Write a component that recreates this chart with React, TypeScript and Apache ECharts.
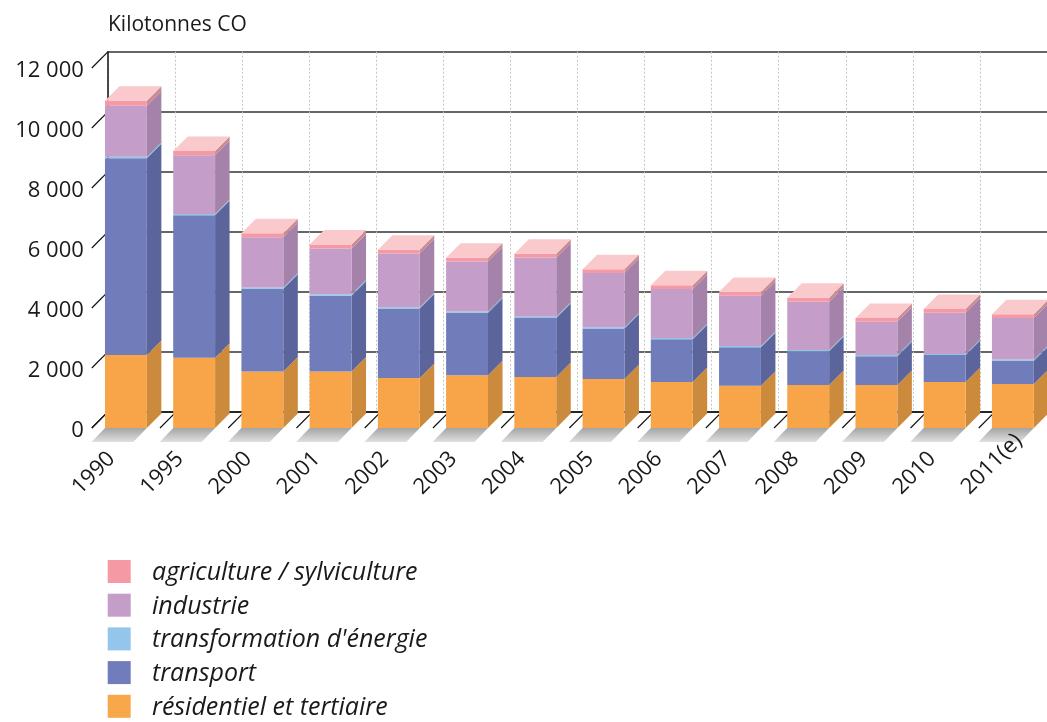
import { useEffect, useRef } from "react";
import * as echarts from "echarts";

// Emissions of carbon monoxide by sector (kilotonnes CO)
const years = ["1990", "1995", "2000", "2001", "2002", "2003", "2004", "2005", "2006", "2007", "2008", "2009", "2010", "2011(e)"];
const residentiel = [2430, 2340, 1880, 1880, 1670, 1760, 1700, 1630, 1530, 1410, 1430, 1430, 1530, 1470];
const transport = [6560, 4750, 2760, 2530, 2310, 2080, 1970, 1690, 1430, 1280, 1130, 960, 900, 770];
const energie = [50, 45, 45, 45, 45, 40, 40, 40, 40, 40, 40, 40, 40, 40];
const industrie = [1700, 1960, 1670, 1530, 1790, 1670, 1970, 1810, 1630, 1680, 1610, 1110, 1370, 1390];
const agriculture = [170, 135, 135, 130, 125, 125, 125, 125, 125, 125, 130, 125, 125, 125];
const yTicks = [0, 2000, 4000, 6000, 8000, 10000, 12000];
const unitLabel = "Kilotonnes CO";

// stacking order, bottom to top
const layers = [
  { name: "résidentiel et tertiaire", values: residentiel, front: "#f7a548", side: "#cc8a3c", legend: "#f8a74a" },
  { name: "transport", values: transport, front: "#717dbb", side: "#5b659c", legend: "#717cbd" },
  { name: "transformation d'énergie", values: energie, front: "#8ec6e9", side: "#7aabcb", legend: "#93c6ea" },
  { name: "industrie", values: industrie, front: "#c49ec8", side: "#a482a9", legend: "#c49ec8" },
  { name: "agriculture / sylviculture", values: agriculture, front: "#f59aa5", side: "#c98a93", legend: "#f59aa5" },
];
const TOP_FACE = "#f9c9cc";

const FONT = "'Open Sans', 'Noto Sans', sans-serif";
const TEXT = "#1a1a1a";
const PLOT = { left: 91.8, top: 68, width: 957.6, height: 360 };
const WALL = 16.3; // depth of the back wall behind the front plane
const BAR_DEPTH = 14.5;
const BAR_RATIO = 42 / 68.4;
const SHADOW = { dx: -13.5, dy: 14 };
const LABEL_ANCHOR = { dx: -52, dy: 61 }; // start of the slanted year labels, from the bar foot
const LEGEND = { left: 107.7, top: 560, box: 23, pitch: 33.7, textLeft: 152, textShift: -1.5, fontSize: 25 };

const fmt = (v: number) => String(v).replace(/\B(?=(\d{3})+(?!\d))/g, " ");

export default function App() {
  const ref = useRef<HTMLDivElement>(null);

  useEffect(() => {
    const chart = echarts.init(ref.current!, null, { renderer: "svg" });

    const shadowFill = new echarts.graphic.LinearGradient(0, 0, 0, 1, [
      { offset: 0, color: "#a3a4a7" },
      { offset: 1, color: "#e0e0e0" },
    ]);

    // floor: shadows under each bar and slanted lines at the category boundaries
    const floorSeries = {
      type: "custom",
      xAxisIndex: 0,
      yAxisIndex: 0,
      silent: true,
      data: years.map((_, i) => [i, 0]),
      encode: { x: 0, y: 1 },
      renderItem: (params: any, api: any) => {
        const base = api.coord([api.value(0), 0]);
        const band = api.size([1, 0])[0];
        const w = band * BAR_RATIO;
        const x0 = base[0] - w / 2;
        const x1 = base[0] + w / 2;
        const y = base[1];
        const bx = base[0] - band / 2;
        return {
          type: "group",
          children: [
            {
              type: "line",
              shape: { x1: bx, y1: y, x2: bx + WALL, y2: y - WALL },
              style: { stroke: "#111", lineWidth: 1.2 },
            },
            {
              type: "polygon",
              shape: {
                points: [
                  [x0, y],
                  [x1, y],
                  [x1 + SHADOW.dx, y + SHADOW.dy],
                  [x0 + SHADOW.dx, y + SHADOW.dy],
                ],
              },
              style: { fill: shadowFill },
            },
          ],
        };
      },
    };

    // slanted ticks joining the value labels to the back wall
    const tickSeries = {
      type: "custom",
      xAxisIndex: 0,
      yAxisIndex: 0,
      silent: true,
      data: yTicks.map((v) => [0, v]),
      encode: { x: 0, y: 1 },
      renderItem: (params: any, api: any) => {
        const y = api.coord([0, api.value(1)])[1];
        const x = params.coordSys.x;
        return {
          type: "line",
          shape: { x1: x, y1: y, x2: x + WALL, y2: y - WALL },
          style: { stroke: "#111", lineWidth: 1.2 },
        };
      },
    };

    const acc = years.map(() => 0);
    const barSeries = layers.map((layer, li) => {
      const data = layer.values.map((v, i) => {
        const lo = acc[i];
        acc[i] = lo + v;
        return [i, lo, lo + v];
      });
      const isTop = li === layers.length - 1;
      return {
        type: "custom",
        name: layer.name,
        xAxisIndex: 0,
        yAxisIndex: 0,
        itemStyle: { color: layer.legend },
        encode: { x: 0, y: [1, 2] },
        data,
        renderItem: (params: any, api: any) => {
          const lo = api.coord([api.value(0), api.value(1)]);
          const hi = api.coord([api.value(0), api.value(2)]);
          const band = api.size([1, 0])[0];
          const w = band * BAR_RATIO;
          const x0 = lo[0] - w / 2;
          const x1 = lo[0] + w / 2;
          const yb = lo[1];
          const yt = hi[1];
          const children: any[] = [
            {
              type: "polygon",
              shape: {
                points: [
                  [x1, yb],
                  [x1 + BAR_DEPTH, yb - BAR_DEPTH],
                  [x1 + BAR_DEPTH, yt - BAR_DEPTH],
                  [x1, yt],
                ],
              },
              style: { fill: layer.side },
            },
            {
              type: "rect",
              shape: { x: x0, y: yt, width: w, height: yb - yt },
              style: { fill: layer.front },
            },
          ];
          if (isTop) {
            children.push({
              type: "polygon",
              shape: {
                points: [
                  [x0, yt],
                  [x1, yt],
                  [x1 + BAR_DEPTH, yt - BAR_DEPTH],
                  [x0 + BAR_DEPTH, yt - BAR_DEPTH],
                ],
              },
              style: { fill: TOP_FACE },
            });
          }
          return { type: "group", children };
        },
      };
    });

    // legend, top entry = top of the stack
    const legendItems = [...layers].reverse().flatMap((l, k) => [
      {
        type: "rect",
        left: LEGEND.left,
        top: LEGEND.top + k * LEGEND.pitch,
        shape: { width: LEGEND.box, height: LEGEND.box },
        style: { fill: l.legend },
      },
      {
        type: "text",
        x: LEGEND.textLeft,
        y: LEGEND.top + k * LEGEND.pitch + LEGEND.box / 2 + LEGEND.textShift,
        style: {
          text: l.name,
          fontFamily: FONT,
          fontSize: LEGEND.fontSize,
          fontStyle: "italic",
          lineHeight: 22,
          fill: TEXT,
          verticalAlign: "middle",
          align: "left",
        },
      },
    ]);

    const hiddenAxis = {
      axisLine: { show: false },
      axisTick: { show: false },
      axisLabel: { show: false },
      splitLine: { show: false },
    };

    chart.setOption({
      animation: false,
      title: {
        text: unitLabel,
        left: 108,
        top: 12,
        padding: 0,
        textStyle: { fontFamily: FONT, fontSize: 21, fontWeight: "normal", color: TEXT },
      },
      graphic: legendItems,
      grid: [
        // front plane: bars and value labels
        { left: PLOT.left, top: PLOT.top, width: PLOT.width, height: PLOT.height },
        // back wall: gridlines
        { left: PLOT.left + WALL, top: PLOT.top - WALL, width: PLOT.width, height: PLOT.height },
        // plane carrying the slanted year labels
        {
          left: PLOT.left + LABEL_ANCHOR.dx,
          top: PLOT.top + LABEL_ANCHOR.dy,
          width: PLOT.width,
          height: PLOT.height,
        },
      ],
      xAxis: [
        { type: "category", gridIndex: 0, data: years, ...hiddenAxis },
        {
          type: "category",
          gridIndex: 1,
          data: years,
          axisLine: { show: true, lineStyle: { color: "#111", width: 1.5 } },
          axisTick: { show: false },
          axisLabel: { show: false },
          splitLine: { show: true, interval: 0, lineStyle: { color: "#c4c4c4", type: [2, 2], width: 1 } },
        },
        {
          type: "category",
          gridIndex: 2,
          data: years,
          z: 5,
          axisLine: { show: false },
          axisTick: { show: false },
          splitLine: { show: false },
          axisLabel: {
            interval: 0,
            rotate: 45,
            margin: 0,
            align: "left",
            verticalAlign: "middle",
            fontFamily: FONT,
            fontSize: 22,
            color: TEXT,
          },
        },
      ],
      yAxis: [
        {
          type: "value",
          gridIndex: 0,
          min: 0,
          max: 12000,
          interval: 2000,
          axisLine: { show: false },
          axisTick: { show: false },
          splitLine: { show: false },
          axisLabel: { margin: 8, fontFamily: FONT, fontSize: 22, color: TEXT, formatter: fmt },
        },
        {
          type: "value",
          gridIndex: 1,
          min: 0,
          max: 12000,
          interval: 2000,
          axisLine: { show: true, lineStyle: { color: "#111", width: 1.5 } },
          axisTick: { show: false },
          axisLabel: { show: false },
          splitLine: { show: true, lineStyle: { color: "#333", width: 1.6 } },
        },
        { type: "value", gridIndex: 2, min: 0, max: 12000, ...hiddenAxis },
      ],
      series: [floorSeries, tickSeries, ...barSeries],
    });

    return () => chart.dispose();
  }, []);

  return <div ref={ref} style={{ position: "fixed", left: 0, top: 0, width: 1047, height: 722 }} />;
}
